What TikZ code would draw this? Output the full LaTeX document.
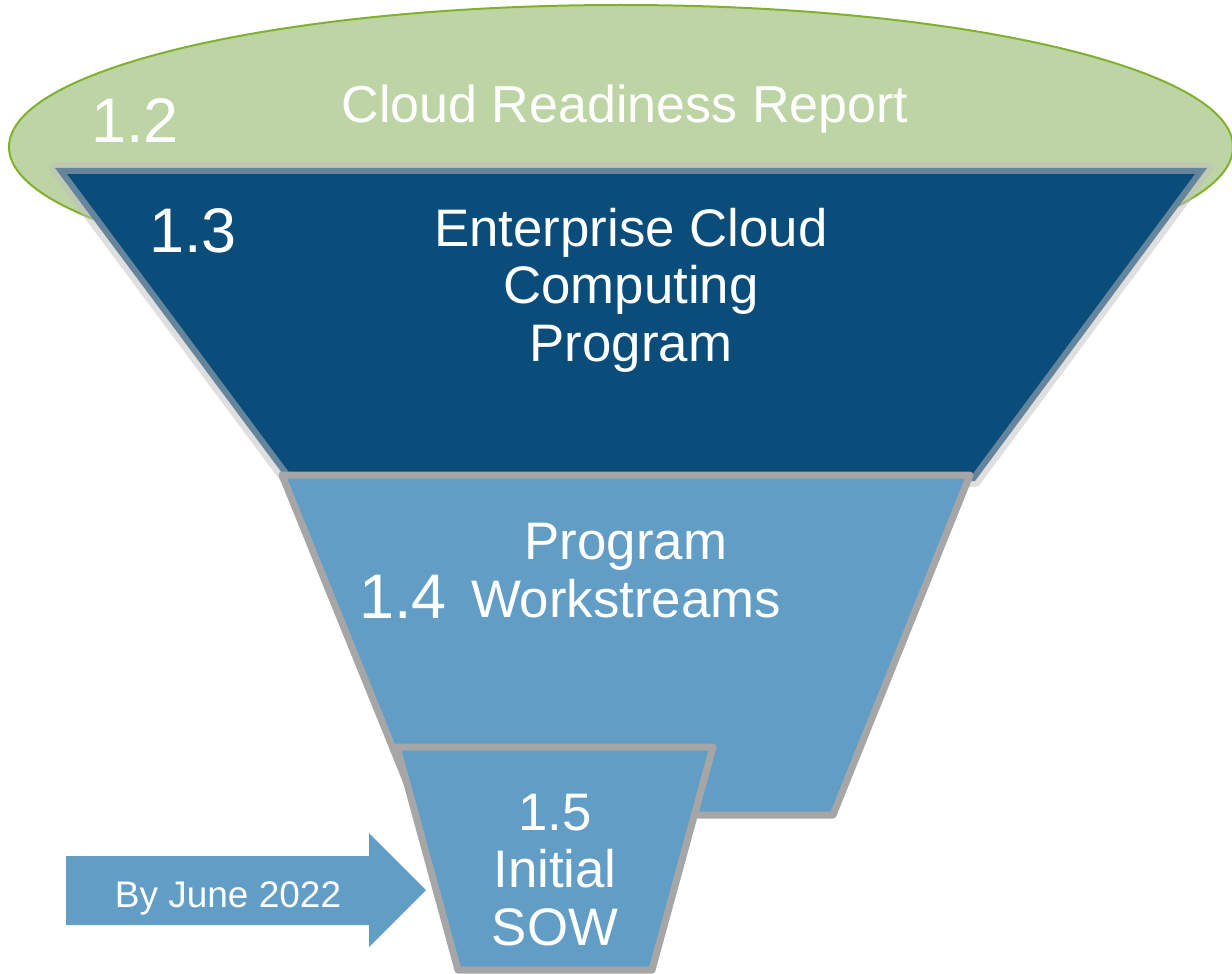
\documentclass[tikz,border=0pt]{standalone}
\usepackage{fontspec}
\setmainfont{Liberation Sans}
\definecolor{greenfill}{HTML}{BDD5A5}
\definecolor{greenline}{HTML}{80B02E}
\definecolor{darkblue}{HTML}{0A4C7A}
\definecolor{midblue}{HTML}{629DC6}
\definecolor{rimgray}{HTML}{A6A6A6}
\definecolor{softgray}{HTML}{BFBFBF}
\tikzset{
  txt/.style={text=white, inner sep=0pt, anchor=base},
  big/.style={font=\fontsize{26.4}{28.75}\selectfont, align=center},
  num/.style={font=\fontsize{31.5}{36}\selectfont},
  small/.style={font=\fontsize{18.5}{22}\selectfont},
  topfunnel/.style={fill=darkblue},
  topstroke/.style={draw=softgray, draw opacity=0.5, line width=6pt, line join=round},
  lowfunnel/.style={fill=midblue, draw=rimgray, line width=3.5pt, line join=round},
}
\begin{document}
\begin{tikzpicture}[x=0.5pt,y=-0.5pt]
\useasboundingbox (0,0) rectangle (1232,974);
% ellipse
\draw[fill=greenfill, draw=greenline, line width=1pt] (621,147) ellipse [x radius=306pt, y radius=71pt];
% top funnel
\fill[topfunnel] (55,168) -- (1207,168) -- (975,481) -- (288,481) -- cycle;
\draw[topstroke] (55,168) -- (1207,168) -- (975,481) -- (288,481) -- cycle;
% middle funnel
\draw[lowfunnel] (282,475) -- (970,475) -- (833,815) -- (420,815) -- cycle;
% bottom funnel
\draw[lowfunnel] (397,747) -- (713,747) -- (652,970) -- (458,970) -- cycle;
% arrow
\fill[midblue] (66,856) -- (369,856) -- (369,833) -- (426,890) -- (369,947) -- (369,925) -- (66,925) -- cycle;
% texts (base anchor = baseline of the last line)
\node[txt, font=\fontsize{26}{30}\selectfont] (cloud) at (625,123) {Cloud Readiness Report};
\node[txt, num] (n12) at (135,143) {1.2};
\node[txt, num] (n13) at (193,252) {1.3};
\node[txt, big] (ecc) at (631,361) {Enterprise Cloud\\Computing\\Program};
\node[txt, big] (pw) at (626,617) {Program\\Workstreams};
\node[txt, num] (n14) at (403,618) {1.4};
\node[txt, big] (sow) at (555,945) {1.5\\Initial\\SOW};
\node[txt, small] (june) at (228,907) {By June 2022};
\end{tikzpicture}
\end{document}
